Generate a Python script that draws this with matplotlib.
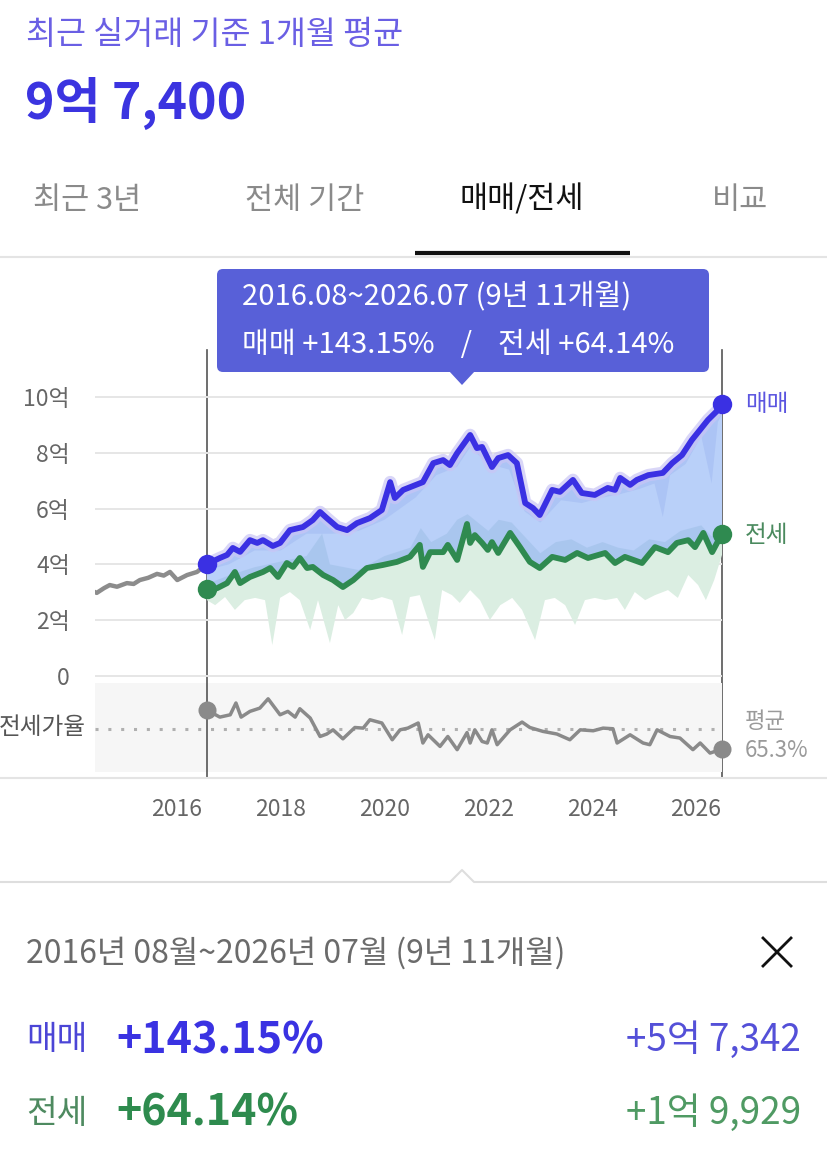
import matplotlib.pyplot as plt
from matplotlib.patches import FancyBboxPatch, Polygon
import numpy as np

plt.rcParams['font.family'] = ['Noto Sans CJK KR', 'DejaVu Sans']

W, H = 827, 1151

# 매매 (sale) price, 억 won
sale_years = [2016.58, 2016.83, 2016.97, 2017.08, 2017.22, 2017.41, 2017.55, 2017.66, 2017.85, 2017.99,
              2018.18, 2018.43, 2018.62, 2018.76, 2018.89, 2019.09, 2019.28, 2019.47, 2019.72, 2019.95,
              2020.11, 2020.20, 2020.36, 2020.74, 2020.94, 2021.13, 2021.26, 2021.40, 2021.65, 2021.78,
              2021.88, 2022.07, 2022.19, 2022.38, 2022.55, 2022.71, 2022.86, 2022.99, 2023.23, 2023.38,
              2023.63, 2023.80, 2024.05, 2024.30, 2024.44, 2024.54, 2024.73, 2024.86, 2025.08, 2025.36,
              2025.54, 2025.73, 2025.92, 2026.23, 2026.42, 2026.50]
sale_vals = [4.01, 4.23, 4.34, 4.59, 4.45, 4.87, 4.77, 4.87, 4.66, 4.77,
             5.23, 5.34, 5.59, 5.88, 5.66, 5.34, 5.23, 5.48, 5.66, 5.95,
             6.95, 6.38, 6.67, 6.95, 7.63, 7.74, 7.56, 7.99, 8.64, 8.17,
             8.21, 7.49, 7.81, 7.92, 7.63, 6.20, 6.02, 5.77, 6.67, 6.60,
             7.03, 6.56, 6.49, 6.74, 6.67, 7.10, 6.85, 7.03, 7.20, 7.28,
             7.63, 7.92, 8.46, 9.18, 9.53, 9.74]

# 매매 lowest deals (slightly darker band under the sale line)
sale_low_years = [2016.58, 2017.00, 2017.50, 2018.00, 2018.50, 2019.00, 2019.50, 2020.00, 2020.30, 2020.60,
                  2021.00, 2021.40, 2021.65, 2022.00, 2022.40, 2022.70, 2023.00, 2023.40, 2023.80, 2024.20,
                  2024.50, 2024.90, 2025.20, 2025.36, 2025.50, 2025.80, 2026.10, 2026.30, 2026.42, 2026.50]
sale_low_vals = [3.80, 4.00, 4.50, 4.50, 5.10, 5.10, 5.20, 5.60, 6.00, 6.40,
                 7.20, 7.50, 8.20, 7.60, 7.40, 5.90, 5.50, 6.30, 6.20, 6.40,
                 6.50, 6.70, 6.90, 5.70, 7.20, 7.60, 8.60, 6.90, 9.10, 9.40]

# 매매 before the selected period (grey)
pre_years = [2014.37, 2014.46, 2014.60, 2014.71, 2014.85, 2015.04, 2015.17, 2015.29, 2015.45, 2015.62,
             2015.75, 2015.87, 2016.01, 2016.20, 2016.39, 2016.58]
pre_vals = [3.05, 2.98, 3.15, 3.26, 3.20, 3.33, 3.30, 3.44, 3.52, 3.66,
            3.60, 3.73, 3.44, 3.62, 3.73, 4.01]

# 전세 (jeonse) price, 억 won
rent_years = [2016.58, 2016.78, 2016.97, 2017.12, 2017.22, 2017.41, 2017.66, 2017.80, 2017.95, 2018.12,
              2018.24, 2018.37, 2018.51, 2018.62, 2018.82, 2019.01, 2019.20, 2019.40, 2019.66, 2019.97,
              2020.24, 2020.49, 2020.68, 2020.74, 2020.88, 2021.13, 2021.22, 2021.40, 2021.59, 2021.65,
              2021.74, 2021.88, 2021.99, 2022.07, 2022.19, 2022.42, 2022.61, 2022.80, 2022.99, 2023.23,
              2023.48, 2023.71, 2023.92, 2024.25, 2024.44, 2024.63, 2024.96, 2025.21, 2025.46, 2025.63,
              2025.85, 2025.98, 2026.14, 2026.31, 2026.50]
rent_vals = [3.107, 3.15, 3.33, 3.73, 3.33, 3.55, 3.73, 3.87, 3.55, 4.05,
             3.91, 4.23, 3.87, 3.91, 3.62, 3.44, 3.19, 3.44, 3.87, 3.98,
             4.09, 4.27, 4.70, 3.91, 4.44, 4.44, 4.70, 4.16, 5.45, 4.77,
             5.05, 4.77, 4.52, 4.80, 4.41, 5.13, 4.62, 4.09, 3.87, 4.27,
             4.16, 4.41, 4.23, 4.41, 4.05, 4.27, 4.05, 4.62, 4.44, 4.77,
             4.87, 4.62, 5.13, 4.44, 5.10]

# 전세 highest deals (darker band over the jeonse line)
rent_high_years = [2016.58, 2017.00, 2017.50, 2018.00, 2018.50, 2018.80, 2018.95, 2019.50, 2020.00, 2020.50,
                   2020.70, 2020.90, 2021.20, 2021.40, 2021.60, 2021.80, 2022.00, 2022.20, 2022.45, 2022.70,
                   2023.00, 2023.30, 2023.60, 2023.90, 2024.20, 2024.50, 2024.80, 2025.10, 2025.40, 2025.70,
                   2025.90, 2026.10, 2026.30, 2026.50]
rent_high_vals = [3.30, 3.60, 3.90, 4.10, 4.30, 5.10, 4.00, 3.80, 4.30, 4.60,
                  5.30, 4.80, 5.10, 5.60, 5.80, 5.50, 5.20, 5.60, 5.50, 5.00,
                  4.40, 4.80, 4.90, 4.60, 4.80, 4.60, 4.50, 4.90, 4.80, 5.20,
                  5.30, 5.40, 5.00, 5.30]

# 전세 lowest deals (light green band)
rent_low_years = [2016.58, 2016.74, 2016.93, 2017.12, 2017.31, 2017.51, 2017.70, 2017.84, 2017.99, 2018.18,
                  2018.37, 2018.57, 2018.72, 2018.95, 2019.11, 2019.24, 2019.40, 2019.57, 2019.76, 2019.95,
                  2020.15, 2020.34, 2020.49, 2020.68, 2020.84, 2020.97, 2021.11, 2021.30, 2021.45, 2021.65,
                  2021.84, 2022.03, 2022.23, 2022.46, 2022.65, 2022.90, 2023.09, 2023.28, 2023.48, 2023.67,
                  2023.86, 2024.05, 2024.25, 2024.48, 2024.63, 2024.82, 2025.02, 2025.21, 2025.46, 2025.65,
                  2025.85, 2026.04, 2026.19, 2026.35, 2026.50]
rent_low_vals = [2.72, 2.54, 2.83, 2.37, 2.72, 2.80, 2.72, 1.11, 2.80, 3.01,
                 2.72, 1.65, 2.72, 1.18, 2.54, 2.01, 2.26, 2.80, 2.72, 2.83,
                 2.72, 1.47, 2.83, 2.90, 2.01, 1.29, 3.08, 2.90, 2.62, 3.08,
                 2.72, 2.01, 2.54, 2.80, 2.37, 1.29, 2.72, 2.80, 2.54, 1.83,
                 2.72, 2.80, 2.72, 2.80, 2.37, 3.01, 2.72, 2.90, 3.08, 2.80,
                 3.62, 3.26, 2.72, 3.44, 4.34]

# 전세가율 (jeonse / sale ratio, %)
ratio_years = [2016.58, 2016.83, 2017.03, 2017.14, 2017.24, 2017.41, 2017.60, 2017.76, 2017.99, 2018.14,
               2018.28, 2018.37, 2018.57, 2018.76, 2018.89, 2019.01, 2019.20, 2019.43, 2019.59, 2019.72,
               2019.95, 2020.15, 2020.30, 2020.45, 2020.65, 2020.74, 2020.84, 2021.07, 2021.22, 2021.40,
               2021.59, 2021.65, 2021.74, 2021.88, 2021.98, 2022.07, 2022.17, 2022.42, 2022.65, 2022.80,
               2023.05, 2023.32, 2023.57, 2023.77, 2024.02, 2024.21, 2024.40, 2024.48, 2024.73, 2024.98,
               2025.11, 2025.25, 2025.50, 2025.69, 2025.94, 2026.08, 2026.27, 2026.50]
ratio_vals = [77.6, 73.0, 74.5, 82.1, 73.0, 76.7, 78.8, 84.8, 74.5, 76.7,
              73.0, 78.4, 72.4, 60.5, 62.1, 64.8, 59.0, 66.3, 65.9, 71.3,
              69.2, 58.4, 64.8, 65.9, 69.2, 56.3, 61.6, 54.1, 60.5, 52.0,
              63.0, 56.3, 64.8, 57.3, 56.3, 64.8, 55.2, 64.8, 69.8, 66.3,
              63.8, 62.1, 58.4, 64.8, 64.2, 65.9, 65.5, 56.3, 61.6, 56.3,
              55.2, 64.8, 60.5, 59.5, 52.0, 56.3, 49.8, 52.4]
ratio_avg = 65.3

period_start, period_end = 2016.583, 2026.5
y_ticks = [0, 2, 4, 6, 8, 10]
y_labels = ['0', '2억', '4억', '6억', '8억', '10억']
x_ticks = [2016, 2018, 2020, 2022, 2024, 2026]

SALE = '#3a30e3'
RENT = '#2f8a50'
GREY = '#8c8c8c'


def box(x0, y0, x1, y1):
    return [x0 / W, 1 - y1 / H, (x1 - x0) / W, (y1 - y0) / H]


def band(x_top, y_top, x_bot, y_bot):
    # closed outline: one series forward, the other back
    return (np.concatenate([x_top, x_bot[::-1]]), np.concatenate([y_top, y_bot[::-1]]))


fig = plt.figure(figsize=(W / 100, H / 100), dpi=100)
fig.patch.set_facecolor('white')

# overlay in pixel coordinates for the page decorations
ov = fig.add_axes([0, 0, 1, 1], zorder=0)
ov.set_xlim(0, W)
ov.set_ylim(H, 0)
ov.axis('off')

ax = fig.add_axes(box(95, 380, 722, 680), zorder=2)
axr = fig.add_axes(box(95, 683, 722, 772), zorder=2)

# ---- main price chart
ax.patch.set_alpha(0)
ax.set_xlim(2014.426, period_end)
ax.set_ylim(-0.143, 10.61)
for v in y_ticks:
    ax.axhline(v, color='#e6e6e6', lw=1.4, zorder=0)

ax.fill(*band(sale_years, sale_vals, rent_years, rent_vals), color='#b9d0f9', lw=0, zorder=1)
ax.fill(*band(sale_years, sale_vals, sale_low_years, sale_low_vals), color='#a9c1f4', lw=0, alpha=0.8, zorder=1.2)
ax.fill(*band(rent_high_years, rent_high_vals, rent_years, rent_vals), color='#a6c4ec', lw=0, alpha=0.8, zorder=1.3)
ax.fill(*band(rent_years, rent_vals, rent_low_years, rent_low_vals), color='#dbeee2', lw=0, zorder=1)

ax.plot(pre_years, pre_vals, color=GREY, lw=3.2, zorder=3, solid_joinstyle='round')
ax.plot(sale_years, sale_vals, color='#c9c5f5', lw=9, alpha=0.7, zorder=3)
ax.plot(sale_years, sale_vals, color=SALE, lw=4.2, zorder=4, solid_joinstyle='round')
ax.plot(rent_years, rent_vals, color=RENT, lw=4.2, zorder=4, solid_joinstyle='round')

for yrs, vals, c in [(sale_years, sale_vals, SALE), (rent_years, rent_vals, RENT)]:
    ax.plot([yrs[0], yrs[-1]], [vals[0], vals[-1]], 'o', color=c, ms=14,
            mec='none', zorder=6, clip_on=False)

ax.set_yticks(y_ticks)
ax.set_yticklabels(y_labels)
ax.set_xticks([])
ax.tick_params(axis='y', length=0, pad=18, labelsize=16.5, labelcolor='#666666')
for s in ax.spines.values():
    s.set_visible(False)

# ---- 전세가율 strip
axr.set_facecolor('#f6f6f6')
axr.set_xlim(2014.426, period_end)
axr.set_ylim(37.6, 95.0)
axr.axhline(ratio_avg, color='#b0b0b0', lw=2.2, ls=(0, (1, 3.2)), zorder=1)
axr.axvline(period_start, color='#555555', lw=1.2, zorder=2)
axr.plot(ratio_years, ratio_vals, color='#8a8a8a', lw=2.5, zorder=3, solid_joinstyle='round')
axr.plot([ratio_years[0], ratio_years[-1]], [ratio_vals[0], ratio_vals[-1]], 'o',
         color='#8a8a8a', ms=13, mec='none', zorder=5, clip_on=False)
axr.set_yticks([])
axr.set_xticks(x_ticks)
axr.set_xticklabels([str(t) for t in x_ticks])
axr.tick_params(axis='x', length=0, pad=19, labelsize=16.5, labelcolor='#666666')
for s in axr.spines.values():
    s.set_visible(False)

# ---- page header and tabs
ov.text(26, 35, '최근 실거래 기준 1개월 평균', color='#6a5fe4', fontsize=23.5, va='center')
ov.text(25, 103, '9억 7,400', color='#3b34e0', fontsize=36, fontweight='bold', va='center')
tabs = [('최근 3년', 33, '#8a8a8a'), ('전체 기간', 245, '#8a8a8a'),
        ('매매/전세', 460, '#111111'), ('비교', 712, '#8a8a8a')]
for label, x, c in tabs:
    ov.text(x, 200, label, color=c, fontsize=22, va='center')
ov.plot([0, W], [256.5, 256.5], color='#e4e4e4', lw=1.5)
ov.plot([415, 630], [253, 253], color='#111111', lw=3, solid_capstyle='butt')

# ---- selected period markers
x0_px = ax.transData.transform((period_start, 0))[0]
x1_px = ax.transData.transform((period_end, 0))[0]
for xp in (x0_px, x1_px):
    ov.plot([xp, xp], [350, 777], color='#555555', lw=1.2)

# ---- tooltip
ov.add_patch(FancyBboxPatch((217, 269), 492, 103, boxstyle='round,pad=0,rounding_size=6',
                            fc='#5860d8', ec='none', zorder=5))
ov.add_patch(Polygon([(449, 371), (475, 371), (462, 385)], closed=True, fc='#5860d8', ec='none', zorder=5))
ov.text(242, 297, '2016.08~2026.07 (9년 11개월)', color='white', fontsize=21, va='center',
        fontweight='medium', zorder=6)
ov.text(242, 345, '매매 +143.15%    /    전세 +64.14%', color='white', fontsize=21, va='center',
        fontweight='medium', zorder=6)

# ---- series end labels
ov.text(745, 404, '매매', color='#5b55e0', fontsize=17, va='center')
ov.text(745, 535, '전세', color='#4a8a5e', fontsize=17, va='center')
ov.text(86, 727, '전세가율', color='#555555', fontsize=17, va='center', ha='right')
ov.text(745, 721, '평균', color='#9a9a9a', fontsize=16, va='center')
ov.text(745, 750, '65.3%', color='#9a9a9a', fontsize=16, va='center')

ov.plot([0, W], [777.5, 777.5], color='#e4e4e4', lw=1.5)
ov.plot([0, 450, 462, 474, W], [882, 882, 870, 882, 882], color='#dedede', lw=1.5)

# ---- summary panel
ov.text(26, 953, '2016년 08월~2026년 07월 (9년 11개월)', color='#6b6b6b', fontsize=23, va='center')
ov.plot([763, 791], [938, 966], color='#111111', lw=2)
ov.plot([763, 791], [966, 938], color='#111111', lw=2)

ov.text(26, 1040, '매매', color='#4b45d6', fontsize=24, va='center')
ov.text(116, 1040, '+143.15%', color='#3a32e2', fontsize=31, fontweight='bold', va='center')
ov.text(801, 1040, '+5억 7,342', color='#5450d8', fontsize=26.5, va='center', ha='right')
ov.text(26, 1113, '전세', color='#4e8a60', fontsize=24, va='center')
ov.text(116, 1113, '+64.14%', color='#2e8b4e', fontsize=31, fontweight='bold', va='center')
ov.text(801, 1113, '+1억 9,929', color='#4f9a63', fontsize=26.5, va='center', ha='right')

fig.savefig('out.png', dpi=100)
